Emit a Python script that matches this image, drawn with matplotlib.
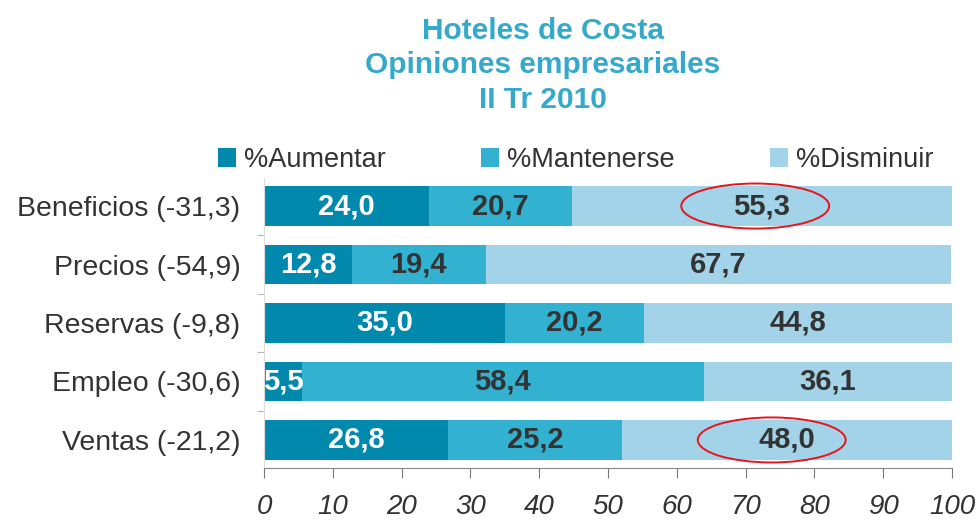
import matplotlib
matplotlib.use("Agg")
import matplotlib.pyplot as plt
from matplotlib.patches import Ellipse
import numpy as np

plt.rcParams['font.family'] = ['Liberation Sans', 'DejaVu Sans']

categories = ["Beneficios (-31,3)", "Precios (-54,9)", "Reservas (-9,8)", "Empleo (-30,6)", "Ventas (-21,2)"]
aumentar = [24.0, 12.8, 35.0, 5.5, 26.8]
mantenerse = [20.7, 19.4, 20.2, 58.4, 25.2]
disminuir = [55.3, 67.7, 44.8, 36.1, 48.0]
series_names = ["%Aumentar", "%Mantenerse", "%Disminuir"]
xticks = [0, 10, 20, 30, 40, 50, 60, 70, 80, 90, 100]
highlight = {"Beneficios (-31,3)": 71.4, "Ventas (-21,2)": 73.8}

colors = ["#0088AD", "#33B1D1", "#A3D3E8"]
text_colors = ["white", "#333333", "#333333"]

fig = plt.figure(figsize=(9.76, 5.21), dpi=100)
ax = fig.add_axes([0.2705, 0.1017, 0.7049, 0.5567])

n = len(categories)
y = np.arange(n)[::-1]
left = np.zeros(n)
for vals, col, tc, name in zip([aumentar, mantenerse, disminuir], colors, text_colors, series_names):
    vals = np.array(vals)
    ax.barh(y, vals, left=left, height=0.68, color=col, label=name, edgecolor='none')
    for yi, l, v in zip(y, left, vals):
        ax.text(l + v / 2, yi, f"{v:.1f}".replace('.', ','), ha='center', va='center',
                fontsize=21, fontweight='bold', color=tc)
    left = left + vals

for cat, cx in highlight.items():
    yi = y[categories.index(cat)]
    ax.add_patch(Ellipse((cx, yi), 21.5, 0.77, fill=False, edgecolor='#E8141B', linewidth=1.4))

ax.set_xlim(0, 100)
ax.set_ylim(-0.48, n - 0.52)
ax.set_yticks(y)
ax.set_yticklabels(categories, fontsize=20.5, color='#333333')
ax.set_yticks(np.arange(n - 1) + 0.5, minor=True)
ax.tick_params(axis='y', which='major', length=0, pad=17)
ax.tick_params(axis='y', which='minor', length=5, color='#AAAAAA', direction='out')
ax.set_xticks(xticks)
ax.set_xticklabels([str(t) for t in xticks], fontsize=20, style='italic', color='#333333')
ax.tick_params(axis='x', length=7, color='#777777', pad=12)
for s in ['top', 'right']:
    ax.spines[s].set_visible(False)
ax.spines['left'].set_color('#DDDDDD')
ax.spines['bottom'].set_color('#888888')

fig.text(0.556, 0.968, "Hoteles de Costa\nOpiniones empresariales\nII Tr 2010", ha='center', va='top',
         fontsize=21.5, fontweight='bold', color='#35A9CB', linespacing=1.3)

fig.legend(loc='center', bbox_to_anchor=(0.59, 0.693), ncol=3, frameon=False, fontsize=19.5,
           handlelength=0.67, handleheight=0.67, handletextpad=0.3, columnspacing=3.5,
           labelcolor='#333333')

fig.savefig("out.png", dpi=100, facecolor='white')
